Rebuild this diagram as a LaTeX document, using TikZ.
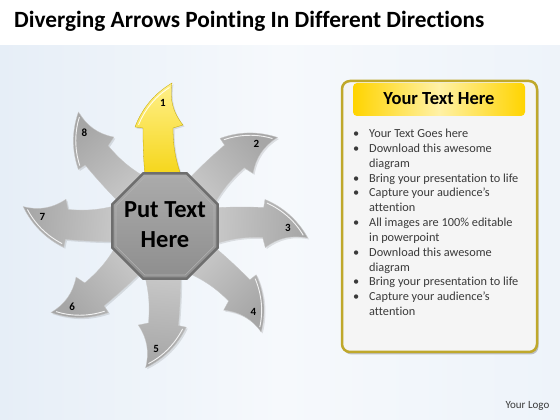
\documentclass[tikz,border=0pt]{standalone}
\usepackage{fontspec}
\setmainfont{Carlito}[Ligatures=NoCommon]
\usetikzlibrary{shapes.geometric}
\definecolor{bgblue}{HTML}{E6EEF7}
\definecolor{bgpale}{HTML}{F6F9FC}
\definecolor{arrowlight}{HTML}{CFCFCF}
\definecolor{arrowdark}{HTML}{A6A6A6}
\definecolor{ylight}{HTML}{FFF08A}
\definecolor{ydark}{HTML}{F3D000}
\definecolor{octtop}{HTML}{ABABAB}
\definecolor{octbot}{HTML}{8E8E8E}
\definecolor{octedge}{HTML}{6E6E6E}
\definecolor{gold}{HTML}{BFA82B}
\definecolor{headyellow}{HTML}{FFD400}
\definecolor{headlight}{HTML}{FFF1A6}
\definecolor{paneltext}{HTML}{3A3A3A}
\tikzset{
  numlabel/.style={font=\bfseries\fontsize{11}{12}\selectfont, inner sep=0pt},
  grayarrow/.style={top color=arrowdark, bottom color=arrowlight, draw=black!22, line width=0.3pt},
  yellowarrow/.style={top color=ylight, bottom color=ydark, draw=ydark!80!black, line width=0.3pt},
  arrowshadow/.style={fill=black, opacity=0.10},
  frontlight/.style={draw=white, line width=0.9pt, opacity=0.85},
}
\begin{document}
\begin{tikzpicture}[x=1pt,y=1pt]
\useasboundingbox (0,0) rectangle (560,420);
% background
\fill[white] (0,0) rectangle (560,420);
\fill[bgpale] (0,0) rectangle (560,374);
\shade[left color=bgblue, right color=bgpale] (0,0) rectangle (280,374);
\shade[left color=bgpale, right color=bgblue!70!white] (280,0) rectangle (560,374);
% title
\node[anchor=base west, inner sep=0pt, font=\bfseries\fontsize{23.3}{28}\selectfont] (title) at (14,392) {Diverging Arrows Pointing In Different Directions};
% gray arrows
\foreach \ang/\num in {-49/2,-92/3,-135/4,-185/5,-230/6,-275/7,-320/8}{
  \begin{scope}[shift={(166.5,192.5)}, rotate=\ang]
    \path[arrowshadow] (-18,30) .. controls (-21,55) and (-22,75) .. (-22,98) -- (-30,99) .. controls (-22.8,118) and (-10.4,132.6) .. (7,143) .. controls (4.3,127.3) and (7.9,113.3) .. (18,101) -- (8,98) .. controls (8,70) and (14,55) .. (24,30) -- cycle;
  \end{scope}
  \begin{scope}[shift={(165,194)}, rotate=\ang]
    \path[grayarrow, shading angle=\ang] (-18,30) .. controls (-21,55) and (-22,75) .. (-22,98) -- (-30,99) .. controls (-22.8,118) and (-10.4,132.6) .. (7,143) .. controls (4.3,127.3) and (7.9,113.3) .. (18,101) -- (8,98) .. controls (8,70) and (14,55) .. (24,30) -- cycle;
    \draw[frontlight] (-26.5,101) .. controls (-20,117) and (-9,130) .. (4.5,138.5);
    \node[numlabel] (n\num) at (-2,123) {\num};
  \end{scope}
}
% yellow arrow
\begin{scope}[shift={(166.5,192.5)}]
  \path[arrowshadow] (-18,30) .. controls (-21,55) and (-22,75) .. (-22,98) -- (-30,99) .. controls (-22.8,118) and (-10.4,132.6) .. (7,143) .. controls (4.3,127.3) and (7.9,113.3) .. (18,101) -- (8,98) .. controls (8,70) and (14,55) .. (24,30) -- cycle;
\end{scope}
\begin{scope}[shift={(165,194)}]
  \path[yellowarrow] (-18,30) .. controls (-21,55) and (-22,75) .. (-22,98) -- (-30,99) .. controls (-22.8,118) and (-10.4,132.6) .. (7,143) .. controls (4.3,127.3) and (7.9,113.3) .. (18,101) -- (8,98) .. controls (8,70) and (14,55) .. (24,30) -- cycle;
  \draw[frontlight] (-26.5,101) .. controls (-20,117) and (-9,130) .. (4.5,138.5);
  \node[numlabel] (n1) at (-2,123) {1};
\end{scope}
% octagon
\node[regular polygon, regular polygon sides=8, minimum size=114pt, inner sep=0pt, draw=octedge, line width=2.5pt, top color=octtop, bottom color=octbot] (oct) at (165,194) {};
\node[regular polygon, regular polygon sides=8, minimum size=106pt, inner sep=0pt, draw=black!30, line width=0.6pt] (octin) at (165,194) {};
\node[align=center, inner sep=0pt, font=\bfseries\fontsize{24.5}{30}\selectfont] (octtext) at (165,195) {Put Text\\Here};
% panel
\fill[black!45, opacity=0.5, rounded corners=8pt] (343.5,65.5) rectangle (538.5,337);
\draw[gold, line width=2.5pt, fill=white!96!black, rounded corners=8pt] (342,68) rectangle (537,339);
\shade[left color=headyellow, right color=headyellow, middle color=headlight, rounded corners=4pt] (353,304) rectangle (525,337);
\node[anchor=base, inner sep=0pt, font=\bfseries\fontsize{18.5}{22}\selectfont] (head) at (439,315.7) {Your Text Here};
\newcommand{\bul}{\makebox[16pt][l]{\textbullet}}
\node[anchor=base west, inner sep=0pt, text=paneltext, font=\fontsize{12.3}{14.85}\selectfont] (list) at (353,282.5) {%
\begin{tabular}[t]{@{}l@{}}
\bul Your Text Goes here\\
\bul Download this awesome\\
\hspace*{16pt}diagram\\
\bul Bring your presentation to life\\
\bul Capture your audience’s\\
\hspace*{16pt}attention\\
\bul All images are 100\% editable\\
\hspace*{16pt}in powerpoint\\
\bul Download this awesome\\
\hspace*{16pt}diagram\\
\bul Bring your presentation to life\\
\bul Capture your audience’s\\
\hspace*{16pt}attention
\end{tabular}};
\node[anchor=base, inner sep=0pt, text=paneltext, font=\fontsize{11}{13}\selectfont] (logo) at (527.5,11.5) {Your Logo};
\end{tikzpicture}
\end{document}
